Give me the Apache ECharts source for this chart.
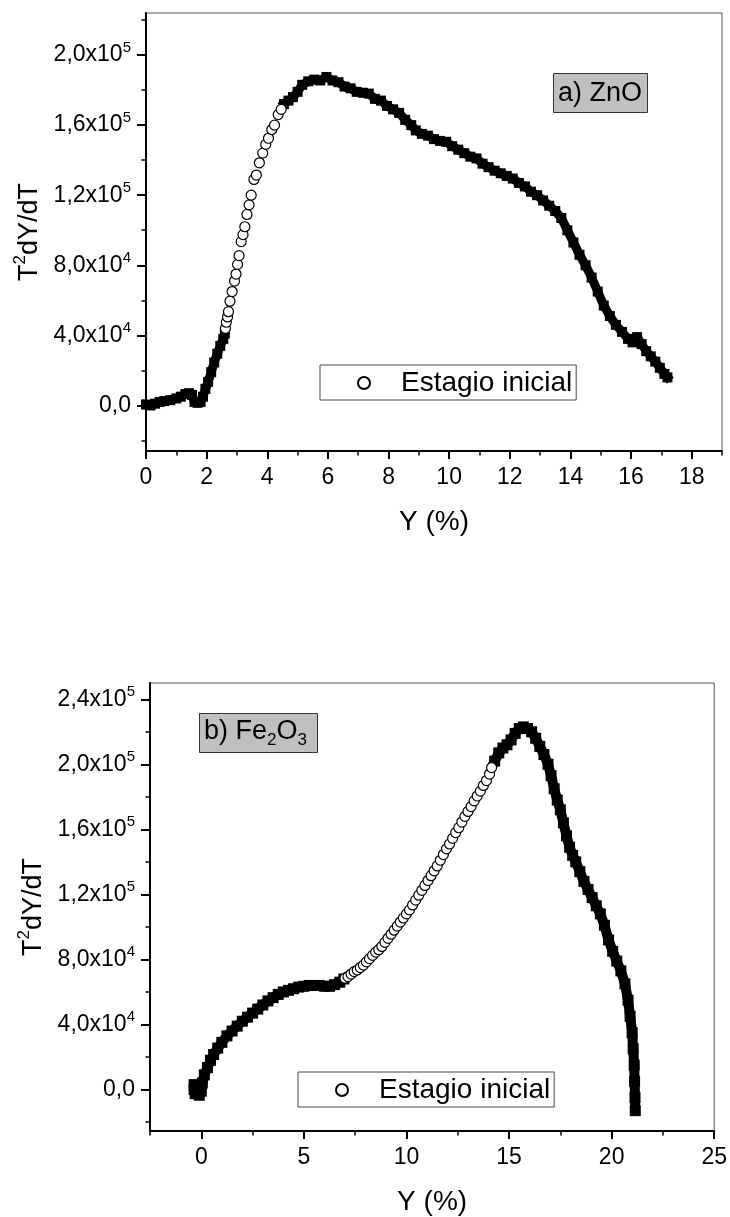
<!DOCTYPE html>
<html>
<head>
<meta charset="utf-8">
<script src="https://cdn.jsdelivr.net/npm/echarts@6/dist/echarts.min.js"></script>
<style>
html,body{margin:0;padding:0;background:#fff;}
#chart{width:730px;height:1217px;}
</style>
</head>
<body>
<div id="chart"></div>
<script>
// ---------- DATA (a) ZnO ----------
const znoSquaresA = [[0,0.05e4],[0.15,0.0],[0.3,0.1e4],[0.45,0.2e4],[0.6,0.25e4],[0.8,0.3e4],[1.0,0.4e4],[1.15,0.5e4],[1.3,0.65e4],[1.42,0.7e4],[1.52,0.6e4],[1.6,0.2e4],[1.7,0.15e4],[1.8,0.2e4],[1.88,0.5e4],[1.96,0.95e4],[2.05,1.35e4],[2.15,1.9e4],[2.25,2.45e4],[2.35,2.95e4],[2.45,3.4e4],[2.55,3.8e4],[2.6,4.1e4]];
const znoCircles = [[2.62,4.4e4],[2.65,4.75e4],[2.69,5.05e4],[2.72,5.35e4],[2.77,5.95e4],[2.84,6.5e4],[2.92,7.1e4],[2.97,7.5e4],[3.02,8.05e4],[3.07,8.55e4],[3.14,9.35e4],[3.2,9.75e4],[3.26,1.02e5],[3.33,1.09e5],[3.4,1.145e5],[3.47,1.2e5],[3.56,1.29e5],[3.64,1.315e5],[3.74,1.385e5],[3.85,1.44e5],[3.95,1.49e5],[4.04,1.525e5],[4.15,1.575e5],[4.24,1.6e5],[4.36,1.66e5],[4.46,1.69e5]];
const znoSquaresB = [[4.55,1.72e5],[4.7,1.74e5],[4.85,1.76e5],[5.0,1.79e5],[5.15,1.83e5],[5.35,1.85e5],[5.55,1.86e5],[5.75,1.855e5],[5.95,1.875e5],[6.15,1.855e5],[6.35,1.845e5],[6.55,1.82e5],[6.75,1.81e5],[6.95,1.79e5],[7.15,1.785e5],[7.35,1.78e5],[7.55,1.75e5],[7.75,1.74e5],[7.95,1.71e5],[8.15,1.69e5],[8.35,1.67e5],[8.55,1.63e5],[8.75,1.6e5],[8.9,1.57e5],[9.1,1.55e5],[9.3,1.54e5],[9.5,1.52e5],[9.7,1.51e5],[9.9,1.505e5],[10.1,1.48e5],[10.3,1.46e5],[10.5,1.44e5],[10.7,1.42e5],[10.9,1.41e5],[11.1,1.38e5],[11.3,1.36e5],[11.5,1.34e5],[11.7,1.325e5],[11.9,1.31e5],[12.1,1.295e5],[12.3,1.27e5],[12.5,1.25e5],[12.7,1.22e5],[12.9,1.2e5],[13.1,1.17e5],[13.3,1.14e5],[13.5,1.11e5],[13.7,1.07e5],[13.9,1.0e5],[14.1,9.3e4],[14.3,8.6e4],[14.5,8.0e4],[14.7,7.3e4],[14.9,6.5e4],[15.1,5.7e4],[15.3,5.1e4],[15.5,4.6e4],[15.7,4.2e4],[15.9,3.8e4],[16.05,3.6e4],[16.2,3.9e4],[16.35,3.5e4],[16.5,3.1e4],[16.65,2.8e4],[16.8,2.5e4],[16.95,2.15e4],[17.1,1.8e4],[17.2,1.6e4]];

// ---------- DATA (b) Fe2O3 ----------
const feSquaresA = [[-0.35,0.3e4],[-0.35,0],[-0.3,-0.25e4],[-0.1,-0.35e4],[0,-0.1e4],[0.05,0.4e4],[0.15,0.9e4],[0.3,1.35e4],[0.45,1.8e4],[0.6,2.15e4],[0.8,2.55e4],[1.0,2.9e4],[1.25,3.3e4],[1.5,3.6e4],[1.75,3.9e4],[2.0,4.2e4],[2.25,4.45e4],[2.5,4.7e4],[2.75,4.95e4],[3.0,5.2e4],[3.25,5.45e4],[3.5,5.65e4],[3.75,5.85e4],[4.0,6.0e4],[4.25,6.1e4],[4.5,6.2e4],[4.75,6.3e4],[5.0,6.35e4],[5.25,6.4e4],[5.5,6.4e4],[5.75,6.4e4],[6.0,6.35e4],[6.25,6.35e4],[6.5,6.45e4],[6.75,6.6e4],[6.95,6.8e4]];
const feCircles = [[7.0,6.85e4],[7.15,6.95e4],[7.3,7.1e4],[7.45,7.25e4],[7.6,7.35e4],[7.75,7.5e4],[7.9,7.65e4],[8.05,7.85e4],[8.2,8.05e4],[8.35,8.25e4],[8.5,8.45e4],[8.65,8.6e4],[8.8,8.8e4],[8.95,9.05e4],[9.1,9.3e4],[9.25,9.55e4],[9.4,9.8e4],[9.55,10.05e4],[9.7,10.3e4],[9.85,10.55e4],[10.0,10.8e4],[10.15,11.05e4],[10.3,11.35e4],[10.45,11.65e4],[10.6,11.95e4],[10.75,12.25e4],[10.9,12.55e4],[11.05,12.85e4],[11.2,13.15e4],[11.35,13.45e4],[11.5,13.75e4],[11.65,14.1e4],[11.8,14.45e4],[11.95,14.8e4],[12.1,15.1e4],[12.25,15.45e4],[12.4,15.8e4],[12.55,16.1e4],[12.7,16.45e4],[12.85,16.8e4],[13.0,17.1e4],[13.15,17.4e4],[13.3,17.75e4],[13.45,18.05e4],[13.6,18.35e4],[13.75,18.7e4],[13.9,19.0e4],[14.05,19.4e4],[14.15,19.8e4]];
const feSquaresB = [[14.3,20.2e4],[14.5,20.7e4],[14.7,21.0e4],[14.9,21.2e4],[15.1,21.5e4],[15.3,21.9e4],[15.5,22.2e4],[15.7,22.3e4],[15.9,22.2e4],[16.1,22.0e4],[16.3,21.6e4],[16.5,21.1e4],[16.7,20.6e4],[16.9,20.0e4],[17.05,19.3e4],[17.2,18.5e4],[17.35,17.8e4],[17.5,17.2e4],[17.65,16.4e4],[17.8,15.6e4],[17.95,14.9e4],[18.1,14.4e4],[18.25,14.0e4],[18.45,13.4e4],[18.65,12.8e4],[18.85,12.3e4],[19.05,11.8e4],[19.25,11.3e4],[19.45,10.8e4],[19.65,10.1e4],[19.85,9.2e4],[20.05,8.5e4],[20.25,7.9e4],[20.45,7.3e4],[20.65,6.5e4],[20.8,5.5e4],[20.9,4.5e4],[21.0,3.5e4],[21.05,2.5e4],[21.1,1.5e4],[21.12,0.5e4],[21.14,-0.5e4],[21.15,-1.3e4]];

// ---------- TICKS ----------
const znoXTicks = [0,2,4,6,8,10,12,14,16,18];
const znoXMinor = [1,3,5,7,9,11,13,15,17,19];
const znoYTicks = [0,40000,80000,120000,160000,200000];
const znoYMinor = [-20000,20000,60000,100000,140000,180000,220000];
const feXTicks = [0,5,10,15,20,25];
const feXMinor = [-2.5,2.5,7.5,12.5,17.5,22.5];
const feYTicks = [0,40000,80000,120000,160000,200000,240000];
const feYMinor = [-20000,20000,60000,100000,140000,180000,220000];

const legendName = 'Estagio inicial';
const FONT = "'Liberation Sans', Arial, sans-serif";
const TICK_FS = 23;

function fmtY(v){
  if (v === 0) return '{m|0,0}';
  const e = Math.floor(Math.log10(Math.abs(v)) + 1e-9);
  const m = (v / Math.pow(10, e)).toFixed(1).replace('.', ',');
  return '{m|' + m + 'x10}{e|' + e + '}';
}
const yRich = {
  m: {fontSize: TICK_FS, fontFamily: FONT, color: '#000', lineHeight: 30},
  e: {fontSize: 15, fontFamily: FONT, color: '#000', verticalAlign: 'top', lineHeight: 17}
};
const nameRich = {
  m: {fontSize: 27, fontFamily: FONT, color: '#000', lineHeight: 34},
  s: {fontSize: 17, fontFamily: FONT, color: '#000', verticalAlign: 'top', lineHeight: 18}
};

function xMain(grid, min, max, ticks, gap){
  return {
    type: 'value', gridIndex: grid, min: min, max: max, position: 'bottom',
    axisLine: {show: true, onZero: false, lineStyle: {color: '#000', width: 2}},
    axisTick: {show: true, inside: false, length: 8, customValues: ticks, lineStyle: {color: '#000', width: 2}},
    axisLabel: {show: true, customValues: ticks, margin: 15, fontSize: TICK_FS, fontFamily: FONT, color: '#000'},
    splitLine: {show: false},
    name: 'Y (%)', nameLocation: 'middle', nameGap: gap,
    nameTextStyle: {fontSize: 28, fontFamily: FONT, color: '#000'}
  };
}
function xMinor(grid, min, max, ticks){
  return {
    type: 'value', gridIndex: grid, min: min, max: max, position: 'bottom',
    axisLine: {show: false, onZero: false},
    axisTick: {show: true, inside: false, length: 4.5, customValues: ticks, lineStyle: {color: '#000', width: 1.5}},
    axisLabel: {show: false}, splitLine: {show: false}
  };
}
function yMain(grid, min, max, ticks, gap){
  return {
    type: 'value', gridIndex: grid, min: min, max: max, position: 'left',
    axisLine: {show: true, onZero: false, lineStyle: {color: '#000', width: 2}},
    axisTick: {show: true, inside: false, length: 9, customValues: ticks, lineStyle: {color: '#000', width: 2}},
    axisLabel: {show: true, customValues: ticks, margin: 15, formatter: fmtY, rich: yRich},
    splitLine: {show: false},
    name: '{m|T}{s|2}{m|dY/dT}', nameLocation: 'middle', nameGap: gap, nameRotate: 90,
    nameTextStyle: {rich: nameRich}
  };
}
function yMinor(grid, min, max, ticks){
  return {
    type: 'value', gridIndex: grid, min: min, max: max, position: 'left',
    axisLine: {show: false, onZero: false},
    axisTick: {show: true, inside: false, length: 4.5, customValues: ticks, lineStyle: {color: '#000', width: 1.5}},
    axisLabel: {show: false}, splitLine: {show: false}
  };
}
function squares(data, xi, yi, size){
  return {
    type: 'line', xAxisIndex: xi, yAxisIndex: yi, data: data,
    symbol: 'rect', symbolSize: size, showSymbol: true, showAllSymbol: true,
    itemStyle: {color: '#000'},
    lineStyle: {color: '#000', width: size - 1, cap: 'square', join: 'round'},
    silent: true, z: 2
  };
}
function circles(data, xi, yi){
  return {
    type: 'scatter', name: legendName, xAxisIndex: xi, yAxisIndex: yi, data: data,
    symbol: 'circle', symbolSize: 10,
    itemStyle: {color: '#fff', borderColor: '#000', borderWidth: 1.2, opacity: 1},
    silent: true, z: 3
  };
}
function legendBox(left, top){
  return {
    data: [legendName], left: left, top: top, orient: 'horizontal', selectedMode: false,
    itemWidth: 12, itemHeight: 12, padding: [4, 4, 3, 37],
    backgroundColor: '#fff', borderColor: '#444', borderWidth: 1,
    formatter: function(name){ return '{p|}{t|' + name + '}'; },
    textStyle: {fontSize: 28, fontFamily: FONT, color: '#000',
      rich: {p: {width: 26}, t: {fontSize: 28, fontFamily: FONT, color: '#000'}}}
  };
}

const chart = echarts.init(document.getElementById('chart'), null, {renderer: 'canvas'});
chart.setOption({
  animation: false,
  backgroundColor: '#fff',
  title: [
    {text: 'a) ZnO', left: 553, top: 73, padding: [7, 6, 6, 5],
     backgroundColor: '#c0c0c0', borderColor: '#333', borderWidth: 1,
     textStyle: {fontSize: 27, fontWeight: 'normal', fontFamily: FONT, color: '#000'}},
    {text: '{m|b) Fe}{s|2}{m|O}{s|3}', left: 199, top: 710, padding: [5, 11, 4, 5],
     backgroundColor: '#c0c0c0', borderColor: '#333', borderWidth: 1,
     textStyle: {fontSize: 27, fontWeight: 'normal', fontFamily: FONT, color: '#000',
       rich: {
         m: {fontSize: 27, fontFamily: FONT, color: '#000', lineHeight: 34},
         s: {fontSize: 17, fontFamily: FONT, color: '#000', verticalAlign: 'bottom', lineHeight: 14}
       }}}
  ],
  legend: [legendBox(320, 365), legendBox(298, 1072)],
  grid: [
    {left: 146, top: 13, width: 576, height: 438, show: true, borderColor: '#555', borderWidth: 1, backgroundColor: 'transparent'},
    {left: 150, top: 683, width: 565, height: 455, show: true, borderColor: '#555', borderWidth: 1, backgroundColor: 'transparent'}
  ],
  xAxis: [
    xMain(0, 0, 19, znoXTicks, 57),
    xMinor(0, 0, 19, znoXMinor),
    xMain(1, -2.5, 25, feXTicks, 57),
    xMinor(1, -2.5, 25, feXMinor)
  ],
  yAxis: [
    yMain(0, -26000, 224000, znoYTicks, 82),
    yMinor(0, -26000, 224000, znoYMinor),
    yMain(1, -25500, 250000, feYTicks, 84),
    yMinor(1, -25500, 250000, feYMinor)
  ],
  series: [
    squares(znoSquaresA, 0, 0, 10),
    squares(znoSquaresB, 0, 0, 10),
    circles(znoCircles, 0, 0),
    squares(feSquaresA, 2, 2, 11),
    squares(feSquaresB, 2, 2, 11),
    circles(feCircles, 2, 2)
  ]
});
</script>
</body>
</html>
